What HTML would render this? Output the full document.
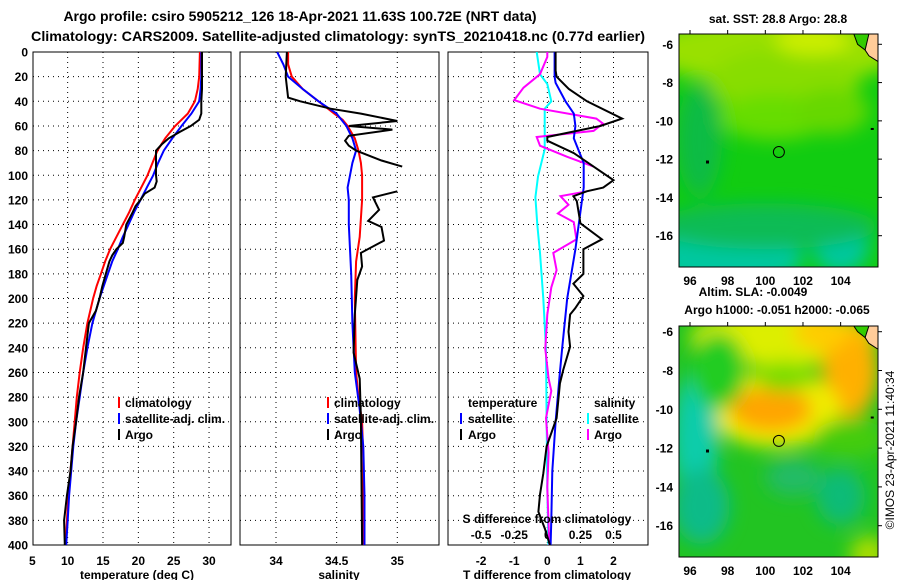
<!DOCTYPE html>
<html><head><meta charset="utf-8">
<style>
html,body{margin:0;padding:0;background:#fff;}
svg{display:block;font-family:"Liberation Sans",Arial,sans-serif;font-weight:bold;}
text{fill:#000;}
</style></head>
<body>
<svg id="fig" width="900" height="580" viewBox="0 0 900 580" xmlns="http://www.w3.org/2000/svg">
<defs>
<clipPath id="c1"><rect x="33" y="52" width="198" height="493"/></clipPath>
<clipPath id="c2"><rect x="240" y="52" width="199" height="493"/></clipPath>
<clipPath id="c3"><rect x="448" y="52" width="200" height="493"/></clipPath>
<clipPath id="cm1"><rect x="679" y="34" width="199" height="233"/></clipPath>
<clipPath id="cm2"><rect x="679" y="326" width="199" height="231"/></clipPath>
<filter id="bl" x="-50%" y="-50%" width="200%" height="200%"><feGaussianBlur stdDeviation="9"/></filter>
</defs>
<text x="300" y="21" font-size="14" text-anchor="middle">Argo profile: csiro 5905212_126 18-Apr-2021 11.63S 100.72E (NRT data)</text>
<text x="338" y="41" font-size="14" text-anchor="middle" textLength="614" lengthAdjust="spacingAndGlyphs">Climatology: CARS2009. Satellite-adjusted climatology: synTS_20210418.nc (0.77d earlier)</text>
<g id="plots"></g>
<g id="maps"></g>
</svg>
<script>
// ---- Temperature panel data ----
const tempClimDepth=[0,20,30,40,50,60,70,80,90,100,110,120,130,140,150,160,170,180,190,200,220,240,260,280,300,320,340,360,380,400];
const tempClim=[28.7,28.6,28.4,28.0,27.0,25.2,23.8,22.7,22.0,21.3,20.4,19.5,18.7,17.8,16.9,16.0,15.3,14.7,14.1,13.6,12.8,12.2,11.7,11.3,11.0,10.7,10.4,10.1,9.9,9.7];
const tempSatDepth=tempClimDepth;
const tempSat=[28.9,28.9,28.8,28.6,27.5,26.1,24.8,23.6,22.8,22.1,21.2,20.3,19.4,18.6,17.8,17.1,16.3,15.7,15.1,14.5,13.5,12.8,12.2,11.7,11.2,10.8,10.5,10.2,10.0,9.8];
const tempArgoDepth=[0,20,30,40,50,55,60,65,70,75,80,90,100,105,110,115,120,125,130,140,150,155,160,165,170,180,190,200,210,220,240,260,280,300,320,340,360,380,400];
const tempArgo=[29.0,29.0,29.0,28.9,28.9,28.6,27.4,25.8,24.3,23.3,22.5,22.5,22.5,22.6,22.3,20.9,20.3,19.6,19.2,18.3,18.0,17.8,16.9,16.3,15.9,15.4,14.9,14.5,14.0,13.0,12.6,12.2,11.6,11.2,10.7,10.4,9.9,9.5,9.6];
// ---- Salinity panel data ----
const salClimDepth=[0,10,20,30,40,50,55,60,70,80,90,100,120,150,170,200,260,280,300,330,400];
const salClim=[34.10,34.10,34.13,34.22,34.35,34.48,34.55,34.59,34.65,34.68,34.70,34.71,34.71,34.69,34.66,34.65,34.66,34.68,34.71,34.72,34.72];
const salSatDepth=[0,10,20,30,40,50,60,70,80,90,100,110,120,140,180,220,260,290,320,360,400];
const salSat=[34.01,34.06,34.10,34.22,34.35,34.50,34.58,34.63,34.66,34.63,34.61,34.59,34.60,34.60,34.62,34.63,34.65,34.69,34.72,34.73,34.73];
const salArgoDepth=[0,20,37,40,46,50,56,60,63,68,72,76,80,88,93,103,113,118,128,137,142,153,163,174,185,213,244,265,297,400];
const salArgo=[34.09,34.08,34.10,34.20,34.45,34.70,35.00,34.60,34.96,34.60,34.57,34.60,34.66,34.87,35.04,null,35.00,34.80,34.85,34.76,34.87,34.89,34.70,34.71,34.67,34.65,34.64,34.69,34.70,34.71];
// ---- Difference panel data ----
const dTSatDepth=[0,20,25,40,50,60,70,80,90,110,140,160,200,240,260,300,340,380,400];
const dTSat=[0.22,0.22,0.25,0.55,0.8,0.85,0.8,0.95,1.1,1.1,0.95,0.85,0.6,0.45,0.38,0.25,0.15,0.12,0.1];
const dTArgoDepth=[0,15,20,30,40,54,60,69,72,82,104,110,113,117,121,139,152,160,170,180,188,198,208,213,227,239,258,269,297,320,342,359,373,387,400];
const dTArgo=[0.25,0.25,0.28,0.65,1.2,2.26,1.6,0,0,0.8,2.0,1.69,1.19,0.79,0.89,1.0,1.65,1.09,1.09,1.09,0.79,1.09,0.84,0.69,0.64,0.69,0.48,0.38,0.28,-0.02,-0.12,-0.22,-0.27,-0.07,0.08];
const dSSatDepth=[0,18,26,40,46,79,101,118,141,163,200,241,297,353,400];
const dSSat=[-0.08,-0.055,0,0.03,-0.02,-0.02,-0.07,-0.09,-0.075,-0.055,-0.03,-0.01,-0.005,0,0.008];
const dSArgoDepth=[0,4,18,29,39,46,54,58,64,69,76,85,93,103,113,117,124,131,138,152,163,177,191,213,241,265,275,297,325,353,400];
const dSArgo=[0,0,-0.055,-0.18,-0.25,-0.055,0.37,0.42,0.35,-0.08,-0.055,0.15,0.35,null,0.3,0.1,0.16,0.08,0.2,0.22,0.045,0.07,0.03,0,-0.015,0.01,0.03,-0.01,0.01,0,0.015];
// ---- Tick labels ----
const depthTicks=[0,20,40,60,80,100,120,140,160,180,200,220,240,260,280,300,320,340,360,380,400];
const tempTicks=[5,10,15,20,25,30];
const salTicks=[34,34.5,35];
const dTTicks=[-2,-1,0,1,2];
const dSTicks=[-0.5,-0.25,0,0.25,0.5];
const dSTickLabels=["-0.5","-0.25","0","0.25","0.5"];
const lonTicks=[96,98,100,102,104];
const latTicks=[-6,-8,-10,-12,-14,-16];
const floatLon=100.72, floatLat=-11.63;

const NS='http://www.w3.org/2000/svg';
const plots=document.getElementById('plots');
function mk(tag,attrs,parent){const e=document.createElementNS(NS,tag);for(const k in attrs)e.setAttribute(k,attrs[k]);(parent||plots).appendChild(e);return e;}
const Y0=52,Y1=545;
const yD=d=>Y0+d*(Y1-Y0)/400;
const xT=v=>32.3+(v-5)*7.07;
const xS=v=>276+(v-34)*121.3;
const xDT=v=>547.3+v*33.1;
const xDS=v=>547.3+v*132.4;

function series(depths,vals,xf,color,clip,name){
  let d='',pen=false;
  for(let i=0;i<depths.length;i++){
    if(vals[i]===null||vals[i]===undefined){pen=false;continue;}
    d+=(pen?'L':'M')+xf(vals[i]).toFixed(1)+' '+yD(depths[i]).toFixed(1);pen=true;
  }
  const p=mk('path',{d:d,fill:'none',stroke:color,'stroke-width':2,'clip-path':'url(#'+clip+')'});
  
  
}
function panel(x0,x1,vx,name){
  const g=mk('g',{});
  
  
  depthTicks.forEach(t=>{ if(t>0&&t<400) mk('line',{x1:x0,x2:x1,y1:yD(t),y2:yD(t),stroke:'#000','stroke-dasharray':'1,4','stroke-width':1},g);});
  vx.forEach(x=>mk('line',{x1:x,x2:x,y1:Y0,y2:Y1,stroke:'#000','stroke-dasharray':'1,4','stroke-width':1},g));
  mk('rect',{x:x0,y:Y0,width:x1-x0,height:Y1-Y0,fill:'none',stroke:'#000','stroke-width':1},g);
  return g;
}
// Panel 1
panel(33,231,tempTicks.filter(t=>t>5).map(xT),'temperature-panel');
depthTicks.forEach(t=>{const e=mk('text',{x:28,y:yD(t)+4.5,'font-size':12,'text-anchor':'end'});e.textContent=t;
});
tempTicks.forEach(t=>{const e=mk('text',{x:xT(t),y:565,'font-size':12,'text-anchor':'middle'});e.textContent=t;
});
series(tempClimDepth,tempClim,xT,'#f00','c1','temperature-climatology-line');
series(tempSatDepth,tempSat,xT,'#00f','c1','temperature-satellite-line');
series(tempArgoDepth,tempArgo,xT,'#000','c1','temperature-argo-line');
// Panel 2
panel(240,439,salTicks.map(xS),'salinity-panel');
salTicks.forEach(t=>{const e=mk('text',{x:xS(t),y:565,'font-size':12,'text-anchor':'middle'});e.textContent=t;
});
series(salClimDepth,salClim,xS,'#f00','c2','salinity-climatology-line');
series(salSatDepth,salSat,xS,'#00f','c2','salinity-satellite-line');
series(salArgoDepth,salArgo,xS,'#000','c2','salinity-argo-line');
// Panel 3
panel(448,648,dTTicks.map(xDT),'difference-panel');
dTTicks.forEach(t=>{const e=mk('text',{x:xDT(t),y:565,'font-size':12,'text-anchor':'middle'});e.textContent=t;
});
dSTicks.forEach((t,i)=>{const e=mk('text',{x:xDS(t),y:539,'font-size':12,'text-anchor':'middle'});e.textContent=dSTickLabels[i];
});
series(dSSatDepth,dSSat,xDS,'#0ff','c3','salinity-satellite-difference-line');
series(dSArgoDepth,dSArgo,xDS,'#f0f','c3','salinity-argo-difference-line');
series(dTSatDepth,dTSat,xDT,'#00f','c3','temperature-satellite-difference-line');
series(dTArgoDepth,dTArgo,xDT,'#000','c3','temperature-argo-difference-line');

function txt(x,y,s,size,name,anchor){const e=mk('text',{x:x,y:y,'font-size':size,'text-anchor':anchor||'start'});e.textContent=s;
return e;}
function bar(x,y,c,name){const e=mk('rect',{x:x,y:y-10,width:2,height:11,fill:c});
}
txt(137,579,'temperature (deg C)',12,'temperature-axis-title','middle');
txt(339,579,'salinity',12,'salinity-axis-title','middle');
txt(547,579,'T difference from climatology',12,'t-difference-axis-title','middle');
txt(547,523,'S difference from climatology',12,'s-difference-axis-title','middle');
// legends
[[118,125],[327,334]].forEach(p=>{
  bar(p[0],407,'#f00','legend-climatology-swatch');txt(p[1],407,'climatology',12,'legend-climatology');
  bar(p[0],423,'#00f','legend-satellite-swatch');txt(p[1],423,'satellite-adj. clim.',12,'legend-satellite-adj');
  bar(p[0],439,'#000','legend-argo-swatch');txt(p[1],439,'Argo',12,'legend-argo');
});
txt(468,407,'temperature',12,'legend-temperature-heading');
bar(460,423,'#00f','legend-t-satellite-swatch');txt(468,423,'satellite',12,'legend-t-satellite');
bar(460,439,'#000','legend-t-argo-swatch');txt(468,439,'Argo',12,'legend-t-argo');
txt(594,407,'salinity',12,'legend-salinity-heading');
bar(587,423,'#0ff','legend-s-satellite-swatch');txt(594,423,'satellite',12,'legend-s-satellite');
bar(587,439,'#f0f','legend-s-argo-swatch');txt(594,439,'Argo',12,'legend-s-argo');

// ---- Maps ----
const maps=document.getElementById('maps');
const lonX=l=>690+(l-96)*18.83;
function mapPanel(y0,y1,latM6,latM16,clip,blobs,base,name){
  const g=mk('g',{},maps);
  
  
  const latY=l=>latM6+(l+6)*(latM16-latM6)/(-10);
  const cg=mk('g',{'clip-path':'url(#'+clip+')'},g);
  mk('rect',{x:679,y:y0,width:199,height:y1-y0,fill:base},cg);
  const bg=mk('g',{filter:'url(#bl)'},cg);
  blobs.forEach(b=>mk('ellipse',{cx:lonX(b[0]),cy:latY(b[1]),rx:b[2]*18.8,ry:b[3]*19,fill:b[4]},bg));
  // small coastline in corner
  mk('path',{d:`M${lonX(105.2)} ${y0} L${lonX(105.3)} ${latY(-6.3)} L${lonX(105.5)} ${latY(-6.6)} L878 ${latY(-6.9)} L878 ${y0} Z`,fill:'#ffcc99',stroke:'#000','stroke-width':1},cg);
  mk('path',{d:`M${lonX(104.7)} ${y0} L${lonX(104.9)} ${latY(-6.0)} L${lonX(105.3)} ${latY(-6.3)} L${lonX(105.5)} ${y0}`,fill:'#33cc00',stroke:'#000','stroke-width':1},cg);
  mk('rect',{x:lonX(96.85),y:latY(-12.15)-1.5,width:3,height:3,fill:'#000'},cg);
  mk('rect',{x:lonX(105.6),y:latY(-10.45)-1.5,width:3,height:2,fill:'#000'},cg);
  const c=mk('circle',{cx:lonX(floatLon),cy:latY(floatLat),r:5.5,fill:'none',stroke:'#000','stroke-width':1},g);
  
  mk('rect',{x:679,y:y0,width:199,height:y1-y0,fill:'none',stroke:'#000','stroke-width':1},g);
  lonTicks.forEach(l=>{mk('line',{x1:lonX(l),x2:lonX(l),y1:y0,y2:y0-4,stroke:'#000'},g);
    const e=mk('text',{x:lonX(l),y:y1+18,'font-size':12,'text-anchor':'middle'},g);e.textContent=l;
    });
  latTicks.forEach(l=>{mk('line',{x1:878,x2:882,y1:latY(l),y2:latY(l),stroke:'#000'},g);
    const e=mk('text',{x:673,y:latY(l)+4.5,'font-size':12,'text-anchor':'end'},g);e.textContent=l;
    });
}
mapPanel(34,267,44.3,235.7,'cm1',[
  [100.5,-6.3,7,1.8,'#99e000'],[101,-8,4,1.8,'#88dd00'],[102.5,-5.8,2,0.8,'#ccee00'],
  [100.5,-9.8,3,1.2,'#66dd00'],[103.5,-9.5,2,1.2,'#66d800'],[96.5,-11,1.2,3,'#11bb44'],
  [98,-17.2,4,1.5,'#00c8a0'],[104,-16.5,1.5,1.5,'#00c8a0'],[100,-15.5,6,1.2,'#11bb55']
],'#11cc11','sst-map');
mapPanel(326,557,331.7,525.7,'cm2',[
  [101,-6.3,5,1.5,'#ddee00'],[104.5,-8,1.5,2.5,'#ffb000'],[103,-6,1.5,1,'#ffcc00'],
  [100.5,-10,3.5,2,'#eeee00'],[100.3,-10,2.2,1.2,'#ffa500'],
  [101,-8.3,1.5,0.8,'#77dd00'],[96.3,-11.5,1.2,3.5,'#11ccaa'],[96.6,-15,1.5,2,'#11bb88'],
  [101.5,-13.5,1.5,1,'#22bb66'],[104,-14.5,1.3,1.5,'#11bb77'],[97.5,-8,1.5,2,'#22cc22'],
  [104.5,-11.5,2,1,'#44cc11'],[105.5,-17.5,1,1,'#aadd00']
],'#22c422','sla-map');
txt(778,23,'sat. SST: 28.8 Argo: 28.8',12,'sst-map-title','middle');
txt(753,296,'Altim. SLA: -0.0049',12,'sla-map-title','middle');
txt(777,314,'Argo h1000: -0.051 h2000: -0.065',12,'argo-height-title','middle');
const cr=txt(0,0,'©IMOS 23-Apr-2021 11:40:34',12,'copyright-timestamp','middle');
cr.setAttribute('font-weight','normal');
cr.setAttribute('transform','translate(894,450) rotate(-90)');
</script>
</body></html>
